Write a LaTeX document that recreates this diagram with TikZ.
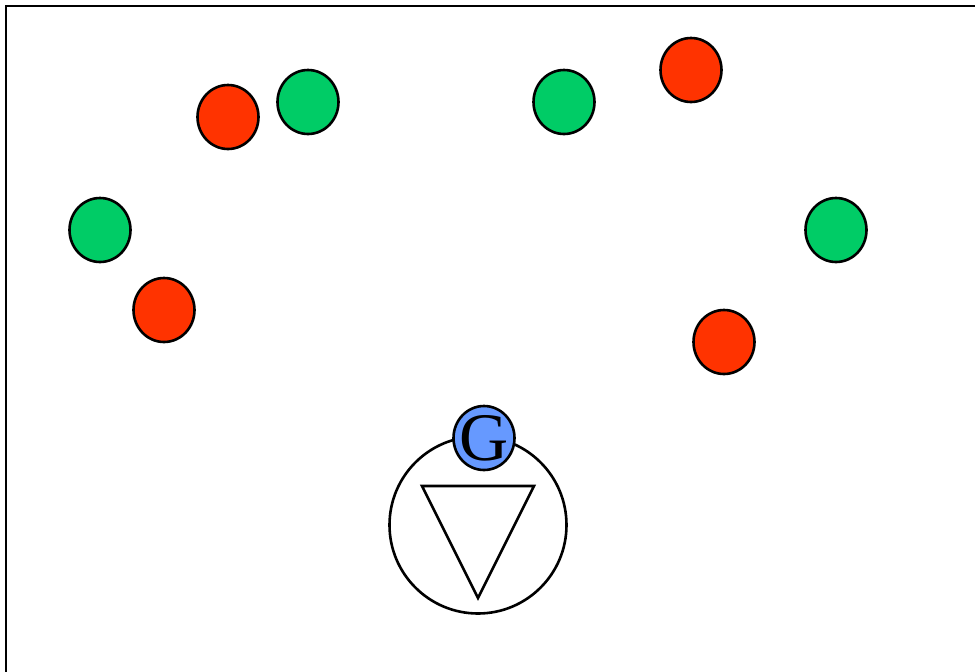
\documentclass[tikz,border=0pt]{standalone}
\usepackage{fontspec}
\setmainfont{Liberation Serif}
\usetikzlibrary{shapes.geometric}
\definecolor{corRed}{HTML}{FF3300}
\definecolor{corGreen}{HTML}{00CC66}
\definecolor{corBlue}{HTML}{6699FF}
\tikzset{
  ball/.style={ellipse, draw, line width=2.6pt, inner sep=0pt, minimum width=61pt, minimum height=64pt},
  redball/.style={ball, fill=corRed},
  greenball/.style={ball, fill=corGreen},
  gball/.style={ball, fill=corBlue},
  glabel/.style={font=\fontsize{68}{68}\selectfont, inner sep=0pt}
}
\begin{document}
\begin{tikzpicture}[x=1pt, y=-1pt]
    \useasboundingbox (0,0) rectangle (975,672);

          % frame
        \draw[line width=2.8pt] (975,6) -- (6,6) -- (6,672);

          % red balls
        \node[redball] (r1) at (228,117) {};
        \node[redball] (r2) at (691,70) {};
        \node[redball] (r3) at (164,310) {};
        \node[redball] (r4) at (724,342) {};

          % green balls
        \node[greenball] (g1) at (308,102) {};
        \node[greenball] (g2) at (564,102) {};
        \node[greenball] (g3) at (100,230) {};
        \node[greenball] (g4) at (836,230) {};

          % player with triangle
        \node[circle, draw, line width=2.6pt, minimum size=177pt, inner sep=0pt] (player) at (478,525) {};
        \draw[line width=2.6pt, line join=miter] (422,486) -- (534,486) -- (478,598) -- cycle;

          % G ball
        \node[gball] (gb) at (484,438) {};
        \node[glabel] (gtext) at (gb.center) {G};
\end{tikzpicture}
\end{document}
